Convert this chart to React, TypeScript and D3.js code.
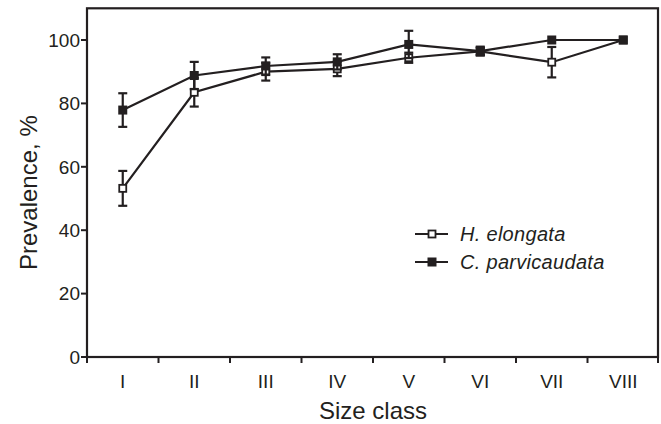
import * as d3 from 'd3'

const sizeClasses = ['I', 'II', 'III', 'IV', 'V', 'VI', 'VII', 'VIII']
const elongata = [53.2, 83.5, 90, 90.9, 94.4, 96.4, 93, 100]
const elongataErr = [5.5, 4.5, 2.8, 2.3, 1.6, 1.2, 4.8, 0]
const parvicaudata = [77.9, 88.8, 91.8, 93.1, 98.6, 96.5, 100, 100]
const parvicaudataErr = [5.3, 4.3, 2.7, 2.4, 4.3, 1.4, 0, 0]
const yTicks = [0, 20, 40, 60, 80, 100]

const ink = '#231f20'

export default function App() {
    const width = 661, height = 424
    const left = 87, right = 659, bottom = 357

    const x = d3.scaleBand().domain(sizeClasses).range([left, right])
    const y = d3.scaleLinear().domain([0, 100]).range([bottom, 40])
    const top = y(110)
    const cx = (c: string) => (x(c) as number) + x.bandwidth() / 2

    const line = d3.line<number>()
        .x((_, i) => cx(sizeClasses[i]))
        .y(d => y(d))

    const series = [
        { name: 'H. elongata', vals: elongata, err: elongataErr, filled: false },
        { name: 'C. parvicaudata', vals: parvicaudata, err: parvicaudataErr, filled: true },
    ]

    return (
        <svg width={width} height={height} style={{ position: 'absolute', left: 0, top: 0 }}
             fontFamily="Liberation Sans, Arial, sans-serif">
            {/* frame */}
            <rect x={left} y={top} width={right - left - 1} height={bottom - top}
                  fill="none" stroke={ink} strokeWidth={2.2}/>
            {/* y ticks */}
            {yTicks.map(t => (
                <g key={t}>
                    <line x1={left - 6} x2={left} y1={y(t)} y2={y(t)} stroke={ink} strokeWidth={2}/>
                    <text x={left - 7} y={y(t)} dy="0.36em" textAnchor="end" fontSize={19} fill={ink}>{t}</text>
                </g>
            ))}
            {/* x ticks */}
            {sizeClasses.map(c => (
                <g key={c}>
                    <line x1={x(c)} x2={x(c)} y1={bottom} y2={bottom + 6} stroke={ink} strokeWidth={2}/>
                    <text x={cx(c)} y={388} textAnchor="middle" fontSize={19} fill={ink}>{c}</text>
                </g>
            ))}
            <line x1={right - 1} x2={right - 1} y1={bottom} y2={bottom + 6} stroke={ink} strokeWidth={2}/>

            <text x={(left + right) / 2} y={419} textAnchor="middle" fontSize={24} fill={ink}>Size class</text>
            <text transform={`translate(37,${(top + bottom) / 2 + 10}) rotate(-90)`} textAnchor="middle"
                  fontSize={24} fill={ink}>Prevalence, %</text>

            {series.map(s => (
                <g key={s.name}>
                    <path d={line(s.vals) ?? ''} fill="none" stroke={ink} strokeWidth={2.2}/>
                    {s.vals.map((v, i) => s.err[i] > 0 && (
                        <g key={i} stroke={ink} strokeWidth={2.2}>
                            <line x1={cx(sizeClasses[i])} x2={cx(sizeClasses[i])}
                                  y1={y(v - s.err[i])} y2={y(v + s.err[i])}/>
                            <line x1={cx(sizeClasses[i]) - 4.5} x2={cx(sizeClasses[i]) + 4.5}
                                  y1={y(v - s.err[i])} y2={y(v - s.err[i])}/>
                            <line x1={cx(sizeClasses[i]) - 4.5} x2={cx(sizeClasses[i]) + 4.5}
                                  y1={y(v + s.err[i])} y2={y(v + s.err[i])}/>
                        </g>
                    ))}
                    {s.vals.map((v, i) => s.filled
                        ? <rect key={'m' + i} x={cx(sizeClasses[i]) - 4.5} y={y(v) - 4.5} width={9} height={9} fill={ink}/>
                        : <rect key={'m' + i} x={cx(sizeClasses[i]) - 3.5} y={y(v) - 3.5} width={7} height={7}
                                fill="#fff" stroke={ink} strokeWidth={1.8}/>
                    )}
                </g>
            ))}

            {/* legend */}
            {series.map((s, i) => {
                const ly = 234 + i * 28
                return (
                    <g key={s.name}>
                        <line x1={415} x2={448} y1={ly} y2={ly} stroke={ink} strokeWidth={2.2}/>
                        {s.filled
                            ? <rect x={427.5} y={ly - 4.5} width={9} height={9} fill={ink}/>
                            : <rect x={428.5} y={ly - 3.5} width={7} height={7} fill="#fff" stroke={ink} strokeWidth={1.8}/>}
                        <text x={460} y={ly} dy="0.36em" fontSize={20} fontStyle="italic" letterSpacing={0.3}
                              fill={ink}>{s.name}</text>
                    </g>
                )
            })}
        </svg>
    )
}
